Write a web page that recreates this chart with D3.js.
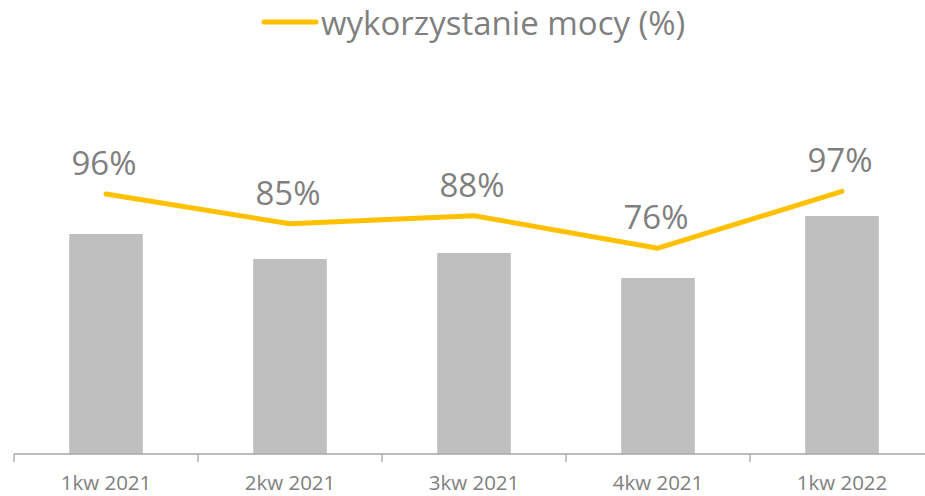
<!DOCTYPE html>
<html>
<head>
<meta charset="utf-8">
<script src="https://cdn.jsdelivr.net/npm/d3@7"></script>
<style>
  body { margin: 0; background: #fff; }
  svg text { font-family: "Open Sans", "Noto Sans", sans-serif; fill: #7f7f7f; }
</style>
</head>
<body>
<svg id="chart" width="925" height="496"></svg>
<script>
// dane
const kwartaly = ["1kw 2021", "2kw 2021", "3kw 2021", "4kw 2021", "1kw 2022"];
const produkcja = [220, 195, 201, 176, 238];       // słupki (bez osi, odczyt szacunkowy)
const wykorzystanie = [96, 85, 88, 76, 97];         // linia, %
const legendaTekst = "wykorzystanie mocy (%)";

const WIDTH = 925, HEIGHT = 496;
const svg = d3.select("#chart");

const osY = 454;
const x = d3.scaleBand().domain(kwartaly).range([14, 934]).paddingInner(0).paddingOuter(0);
const yBar = d3.scaleLinear().domain([0, 250]).range([osY, osY - 250]);
const yLine = d3.scaleLinear().domain([0, 100]).range([osY, osY - 270.8]);

// słupki
svg.append("g").selectAll("rect")
  .data(produkcja)
  .join("rect")
  .attr("x", (d, i) => x(kwartaly[i]) + x.bandwidth() * 0.3)
  .attr("width", x.bandwidth() * 0.4)
  .attr("y", d => yBar(d))
  .attr("height", d => osY - yBar(d))
  .attr("fill", "#bfbfbf");

// oś X
const axis = svg.append("g")
  .attr("transform", `translate(0,${osY})`)
  .call(d3.axisBottom(x).tickSize(0).tickPadding(21));
axis.select(".domain").attr("stroke", "#a6a6a6").attr("stroke-width", 1.3)
  .attr("d", `M14,0H${WIDTH}`);
axis.selectAll("text").attr("font-size", 20.5).attr("fill", "#7f7f7f");

// kreski podziałki na granicach kategorii
svg.append("g").selectAll("line")
  .data(kwartaly)
  .join("line")
  .attr("x1", d => x(d)).attr("x2", d => x(d))
  .attr("y1", osY).attr("y2", osY + 8)
  .attr("stroke", "#a6a6a6").attr("stroke-width", 1.3);

// linia
const cx = (d, i) => x(kwartaly[i]) + x.bandwidth() / 2;
const line = d3.line().x(cx).y(d => yLine(d));
svg.append("path")
  .datum(wykorzystanie)
  .attr("d", line)
  .attr("fill", "none")
  .attr("stroke", "#ffc000")
  .attr("stroke-width", 5)
  .attr("stroke-linecap", "round")
  .attr("stroke-linejoin", "round");

// etykiety
svg.append("g").selectAll("text")
  .data(wykorzystanie)
  .join("text")
  .attr("x", (d, i) => cx(d, i) - 2)
  .attr("y", d => yLine(d) - 19)
  .attr("text-anchor", "middle")
  .attr("font-size", 33)
  .text(d => d + "%");

// legenda
const leg = svg.append("g");
leg.append("line")
  .attr("x1", 264).attr("x2", 316).attr("y1", 22).attr("y2", 22)
  .attr("stroke", "#ffc000").attr("stroke-width", 5).attr("stroke-linecap", "round");
leg.append("text")
  .attr("x", 321).attr("y", 35)
  .attr("font-size", 33)
  .text(legendaTekst);
</script>
</body>
</html>
